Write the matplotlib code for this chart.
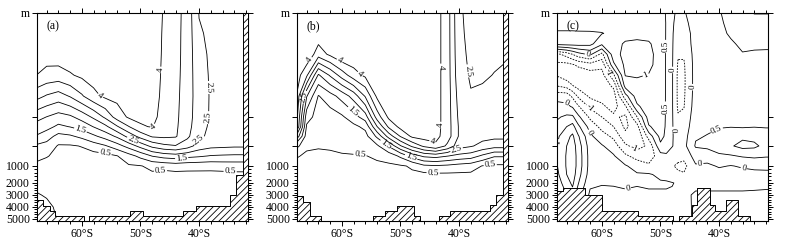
import numpy as np
import matplotlib

matplotlib.use("Agg")
import matplotlib.pyplot as plt
from matplotlib.ticker import FixedLocator, MultipleLocator

plt.rcParams.update(
    {
        "font.family": "serif",
        "font.serif": ["Liberation Serif", "DejaVu Serif"],
        "hatch.linewidth": 0.6,
    }
)

# vertical axis is stretched in the upper ocean (depth in m -> axis units)
DEPTH_KNOTS = [0, 200, 500, 1000, 2000, 3000, 4000, 5000, 5200]
AXIS_KNOTS = [0, 104.5, 133.5, 153.5, 170.5, 182.5, 194.5, 206.5, 208.9]
BOTTOM = 5170

# ---- grids ----
LAT_AB = [-68, -66, -64, -62, -60, -58, -56, -54, -52, -50,
          -48, -46, -44, -42, -40, -38, -36, -34, -32, -30]
DEPTH_AB = [0, 40, 80, 120, 160, 200, 300, 400, 500, 750, 1000, 1500, 2000, 3000, 4000, 5170]

# panel (a): one column per latitude, top -> bottom
FIELD_A = [
    [4.6, 4.5, 4.3, 4.02, 3.21, 2.2, 1.83, 1.48, 0.94, 0.65, 0.41, 0.27, 0.12, -0.05, -0.15, -0.2],
    [4.6, 4.45, 4.2, 3.85, 2.95, 1.99, 1.67, 1.22, 0.82, 0.52, 0.39, 0.29, 0.18, 0.04, -0.1, -0.2],
    [4.6, 4.45, 4.25, 3.8, 2.78, 1.8, 1.4, 0.84, 0.45, 0.42, 0.35, 0.3, 0.24, 0.16, 0.08, 0.02],
    [4.6, 4.45, 4.3, 3.95, 3.04, 1.91, 1.52, 0.92, 0.45, 0.4, 0.36, 0.32, 0.28, 0.22, 0.15, 0.1],
    [4.6, 4.45, 4.3, 4.1, 3.44, 2.2, 1.7, 1.13, 0.52, 0.35, 0.33, 0.32, 0.3, 0.27, 0.2, 0.15],
    [4.6, 4.45, 4.35, 4.2, 3.87, 2.59, 2.02, 1.4, 0.76, 0.3, 0.3, 0.3, 0.3, 0.28, 0.22, 0.18],
    [4.6, 4.45, 4.35, 4.25, 4.1, 3.1, 2.37, 1.7, 0.95, 0.35, 0.33, 0.32, 0.31, 0.3, 0.25, 0.2],
    [4.6, 4.45, 4.35, 4.25, 4.15, 3.72, 2.94, 2.09, 1.28, 0.48, 0.4, 0.38, 0.36, 0.32, 0.27, 0.22],
    [4.6, 4.45, 4.35, 4.28, 4.2, 4.07, 3.48, 2.67, 1.7, 0.8, 0.45, 0.41, 0.37, 0.33, 0.28, 0.23],
    [4.6, 4.45, 4.35, 4.3, 4.2, 4.1, 3.95, 3.18, 2.17, 1.14, 0.48, 0.42, 0.38, 0.34, 0.29, 0.24],
    [4.6, 4.45, 4.35, 4.3, 4.25, 4.15, 4.03, 3.56, 2.64, 1.52, 0.6, 0.44, 0.39, 0.35, 0.3, 0.25],
    [3.92, 3.9, 3.9, 3.88, 3.85, 3.8, 3.7, 3.6, 2.88, 1.71, 0.65, 0.36, 0.34, 0.32, 0.3, 0.26],
    [3.68, 3.66, 3.65, 3.64, 3.62, 3.6, 3.58, 3.55, 2.97, 1.79, 0.72, 0.38, 0.36, 0.33, 0.3, 0.26],
    [3.3, 3.3, 3.3, 3.28, 3.26, 3.22, 3.18, 3.1, 2.72, 1.65, 0.68, 0.38, 0.36, 0.33, 0.3, 0.26],
    [2.48, 2.55, 2.62, 2.68, 2.72, 2.72, 2.68, 2.6, 2.28, 1.57, 0.67, 0.38, 0.36, 0.33, 0.3, 0.26],
    [2.4, 2.42, 2.44, 2.45, 2.46, 2.45, 2.42, 2.38, 2.13, 1.47, 0.66, 0.38, 0.36, 0.33, 0.3, 0.26],
    [2.35, 2.36, 2.38, 2.39, 2.4, 2.38, 2.35, 2.3, 2.1, 1.44, 0.7, 0.38, 0.36, 0.33, 0.3, 0.26],
    [2.3, 2.32, 2.34, 2.35, 2.36, 2.34, 2.3, 2.25, 2.07, 1.42, 0.72, 0.4, 0.36, 0.33, 0.3, 0.26],
    [2.3, 2.32, 2.34, 2.35, 2.36, 2.34, 2.3, 2.25, 2.07, 1.42, 0.72, 0.4, 0.36, 0.33, 0.3, 0.26],
    [2.3, 2.32, 2.34, 2.35, 2.36, 2.34, 2.3, 2.25, 2.07, 1.42, 0.72, 0.4, 0.36, 0.33, 0.3, 0.26],
]

# panel (b)
FIELD_B = [
    [4.5, 4.45, 4.4, 4.35, 4.25, 4.12, 4.03, 2.65, 1.27, 0.54, 0.42, 0.38, 0.35, 0.3, 0.27, 0.25],
    [4.5, 4.45, 4.4, 3.6, 2.04, 1.2, 0.93, 0.74, 0.55, 0.45, 0.4, 0.36, 0.33, 0.3, 0.27, 0.25],
    [4.5, 4.3, 3.74, 1.93, 0.97, 0.8, 0.72, 0.62, 0.52, 0.45, 0.41, 0.37, 0.34, 0.3, 0.27, 0.25],
    [4.5, 4.35, 4.1, 2.56, 1.3, 0.75, 0.68, 0.6, 0.53, 0.46, 0.42, 0.38, 0.35, 0.31, 0.28, 0.25],
    [4.6, 4.55, 4.45, 3.22, 1.69, 0.92, 0.78, 0.68, 0.58, 0.47, 0.42, 0.38, 0.35, 0.31, 0.28, 0.25],
    [4.6, 4.5, 4.4, 3.78, 2.2, 1.28, 0.88, 0.72, 0.6, 0.48, 0.42, 0.38, 0.35, 0.31, 0.28, 0.25],
    [4.6, 4.5, 4.4, 4.1, 3.05, 1.75, 1.12, 0.82, 0.65, 0.49, 0.43, 0.39, 0.36, 0.32, 0.29, 0.26],
    [4.6, 4.55, 4.5, 4.35, 4.1, 3.22, 2.48, 1.6, 0.9, 0.55, 0.44, 0.4, 0.37, 0.33, 0.3, 0.27],
    [4.6, 4.55, 4.5, 4.4, 4.3, 4.1, 3.6, 2.7, 1.55, 0.7, 0.42, 0.4, 0.37, 0.33, 0.3, 0.27],
    [4.6, 4.55, 4.5, 4.4, 4.3, 4.2, 4.15, 3.53, 2.45, 1.1, 0.45, 0.41, 0.38, 0.34, 0.31, 0.28],
    [4.6, 4.55, 4.5, 4.4, 4.35, 4.3, 4.2, 4.1, 3.1, 1.72, 0.55, 0.44, 0.4, 0.35, 0.32, 0.28],
    [4.5, 4.5, 4.45, 4.4, 4.35, 4.3, 4.25, 4.2, 3.6, 2.1, 0.9, 0.38, 0.36, 0.34, 0.31, 0.28],
    [4.2, 4.2, 4.2, 4.2, 4.2, 4.2, 4.2, 4.15, 3.9, 2.2, 0.95, 0.42, 0.38, 0.35, 0.32, 0.28],
    [3.75, 3.75, 3.75, 3.75, 3.75, 3.75, 3.75, 3.75, 3.4, 2.02, 0.9, 0.42, 0.38, 0.35, 0.32, 0.28],
    [2.55, 2.58, 2.62, 2.68, 2.8, 2.9, 2.95, 2.95, 2.7, 1.85, 0.8, 0.42, 0.38, 0.35, 0.32, 0.28],
    [2.4, 2.4, 2.42, 2.45, 2.53, 2.7, 2.75, 2.72, 2.55, 1.75, 0.72, 0.42, 0.38, 0.35, 0.32, 0.28],
    [2.35, 2.36, 2.4, 2.46, 2.56, 2.7, 2.72, 2.65, 2.35, 1.4, 0.48, 0.4, 0.37, 0.33, 0.3, 0.28],
    [2.38, 2.4, 2.44, 2.51, 2.6, 2.7, 2.7, 2.62, 2.2, 1.05, 0.42, 0.38, 0.36, 0.33, 0.3, 0.28],
    [2.4, 2.42, 2.47, 2.55, 2.62, 2.7, 2.7, 2.62, 2.2, 1.05, 0.42, 0.38, 0.36, 0.33, 0.3, 0.28],
    [2.4, 2.42, 2.47, 2.55, 2.62, 2.7, 2.7, 2.62, 2.2, 1.05, 0.42, 0.38, 0.36, 0.33, 0.3, 0.28],
]

# panel (c): difference field, finer grid
LAT_C = [-68, -66, -65, -64, -62, -60, -58, -56, -54, -52, -50, -49,
         -48, -47, -46, -44, -42, -40, -38, -36, -34, -32, -30]
DEPTH_C = [0, 20, 40, 60, 80, 100, 120, 140, 160, 180, 200, 300, 400, 500, 750,
           1000, 1500, 2000, 3000, 5170]
FIELD_C = [
    [0.75, 0.85, 1.05, 1.15, -1.2, -1.6, -1.5, -1.0, -0.2, 0.2, 0.4, 0.6, 0.8, 0.9, 0.9, 0.85, 0.75, 0.6, 0.45, 0.3],
    [0.75, 0.85, 1.05, 1.2, -0.8, -1.65, -1.8, -1.2, -0.2, 0.1, 0.6, 1.0, 1.35, 1.5, 1.55, 1.55, 1.5, 1.3, 1.0, 0.8],
    [0.75, 0.85, 1.05, 1.2, -0.5, -1.55, -1.85, -1.48, -0.6, -0.05, 0.6, 1.2, 1.6, 1.75, 1.8, 1.8, 1.75, 1.6, 1.3, 1.0],
    [0.72, 0.82, 1.05, 1.2, -0.2, -1.4, -1.85, -1.7, -1.1, -0.45, 0.1, 0.6, 1.05, 1.25, 1.3, 1.3, 1.2, 1.02, 0.7, 0.5],
    [0.7, 0.8, 1.05, 1.15, 0.1, -1.2, -1.75, -1.85, -1.6, -1.1, -0.6, -0.2, 0.1, 0.25, 0.3, 0.3, 0.25, 0.1, -0.1, -0.2],
    [0.65, 0.8, 1.02, 0.6, -0.65, -1.35, -1.7, -1.8, -1.7, -1.4, -1.0, -0.65, -0.3, 0.05, 0.15, 0.15, 0.1, 0.02, -0.08, -0.15],
    [0.6, 0.75, 0.9, 0.85, 0.8, 0.4, -0.6, -1.4, -1.75, -1.7, -1.4, -1.0, -0.6, -0.25, 0.05, 0.12, 0.1, 0.03, -0.08, -0.15],
    [0.55, 0.7, 0.85, 1.05, 1.15, 1.12, 1.02, 0.7, -0.2, -1.1, -1.6, -1.6, -1.35, -0.9, -0.4, 0.05, 0.1, 0.05, -0.05, -0.1],
    [0.55, 0.65, 0.85, 1.1, 1.2, 1.18, 1.05, 0.85, 0.75, 0.4, -0.52, -1.2, -1.45, -1.2, -0.7, -0.2, 0.05, 0.02, -0.05, -0.1],
    [0.55, 0.62, 0.85, 1.05, 1.12, 1.1, 0.98, 0.85, 0.8, 0.78, 0.72, 0.45, -0.3, -0.9, -0.8, -0.4, 0.05, 0.05, -0.05, -0.1],
    [0.6, 0.68, 0.75, 0.8, 0.82, 0.82, 0.8, 0.8, 0.78, 0.76, 0.75, 0.72, 0.65, 0.4, -0.2, -0.48, -0.1, 0.05, -0.05, -0.1],
    [0.48, 0.48, 0.47, 0.46, 0.45, 0.45, 0.45, 0.45, 0.45, 0.45, 0.45, 0.44, 0.4, 0.3, -0.1, -0.4, -0.15, 0.05, -0.05, -0.1],
    [0.1, 0.08, 0.06, 0.05, 0.05, 0.05, 0.05, 0.05, 0.05, 0.05, 0.05, 0.05, 0.05, 0.02, -0.2, -0.45, -0.3, 0.02, -0.05, -0.1],
    [-0.1, -0.2, -0.3, -0.35, -0.45, -0.55, -0.6, -0.6, -0.6, -0.58, -0.45, -0.35, -0.25, -0.15, -0.3, -0.6, -0.4, -0.05, -0.08, -0.1],
    [-0.05, -0.15, -0.25, -0.3, -0.45, -0.55, -0.58, -0.58, -0.56, -0.52, -0.4, -0.3, -0.2, -0.15, -0.35, -0.65, -0.45, -0.1, -0.08, -0.1],
    [0.3, 0.25, 0.2, 0.2, 0.2, 0.2, 0.2, 0.2, 0.22, 0.25, 0.3, 0.35, 0.45, 0.55, 0.2, -0.05, -0.2, -0.1, 0.05, 0.05],
    [0.35, 0.3, 0.25, 0.22, 0.2, 0.2, 0.2, 0.22, 0.25, 0.3, 0.35, 0.42, 0.52, 0.6, 0.25, -0.1, -0.25, -0.1, 0.05, 0.05],
    [0.48, 0.45, 0.4, 0.35, 0.3, 0.25, 0.25, 0.25, 0.28, 0.32, 0.38, 0.46, 0.7, 0.8, 0.4, 0.05, -0.2, -0.1, 0.05, 0.05],
    [0.6, 0.58, 0.55, 0.45, 0.38, 0.32, 0.3, 0.3, 0.32, 0.35, 0.4, 0.48, 0.8, 0.95, 0.45, -0.02, -0.15, -0.1, 0.05, 0.05],
    [0.65, 0.65, 0.62, 0.57, 0.48, 0.4, 0.35, 0.33, 0.33, 0.35, 0.4, 0.45, 0.9, 1.15, 0.55, 0.05, -0.15, -0.1, 0.05, 0.05],
    [1.05, 0.7, 0.62, 0.56, 0.46, 0.42, 0.38, 0.35, 0.35, 0.37, 0.42, 0.48, 0.85, 1.1, 0.6, 0.1, -0.12, -0.08, 0.05, 0.05],
    [1.05, 0.7, 0.6, 0.55, 0.46, 0.42, 0.38, 0.36, 0.36, 0.38, 0.42, 0.47, 0.7, 0.85, 0.55, 0.1, -0.1, -0.06, 0.05, 0.05],
    [1.05, 0.7, 0.6, 0.55, 0.46, 0.42, 0.38, 0.36, 0.36, 0.38, 0.42, 0.47, 0.7, 0.85, 0.55, 0.1, -0.1, -0.06, 0.05, 0.05],
]

# contour levels: unlabelled ones and labelled ones
PLAIN_AB = [0, 1.0, 2.0, 3.0, 3.5]
LABELLED_AB = [0.5, 1.5, 2.5, 4.0]
PLAIN_C = [-2.0, 1.5]
LABELLED_C = [-1.5, -1.0, -0.5, 0, 0.5, 1.0]

# where the contour labels sit (lat, depth)
LABEL_AT_A = [(-57.75, 175), (-47.8, 303), (-46.1, 110), (-39.45, 144), (-38.1, 210),
              (-51.4, 459), (-39.8, 448), (-60.3, 350), (-42.9, 900), (-56.0, 650),
              (-46.6, 1176), (-34.7, 1353)]
LABEL_AT_B = [(-60.6, 97), (-56.9, 118), (-65.4, 91), (-67.1, 161), (-58.9, 199),
              (-56.9, 725), (-52.6, 490), (-48.4, 850), (-44.4, 1276), (-43.0, 104),
              (-44.1, 283), (-44.7, 497), (-40.4, 600), (-39.5, 113), (-34.7, 950)]
LABEL_AT_C = [(-49.4, 65), (-47.8, 110), (-48.9, 183), (-47.5, 334), (-44.4, 143),
              (-52.9, 111), (-65.7, 167), (-62.3, 77), (-62.0, 183), (-61.7, 352),
              (-54.3, 517), (-66.8, 472), (-39.8, 403), (-43.2, 980), (-35.9, 1429),
              (-55.8, 1924), (-58.7, 113)]

# bottom topography: segment edges (lat) and depth of sea floor per segment
TOPO_A_EDGES = [-67.7, -66.6, -65.5, -64.6, -59.6, -58.7, -51.8, -49.5, -42.7, -40.5, -34.7, -33.7, -32.55, -31.4]
TOPO_A_TOP = [3400, 3900, 4300, 4750, BOTTOM, 4750, 4300, 4750, 4300, 3900, 3000, 1530, 0]
TOPO_B_EDGES = [-67.7, -66.7, -65.5, -63.6, -54.6, -52.6, -50.6, -47.7, -46.7, -43.5, -41.5, -34.7, -33.7, -32.55, -31.4]
TOPO_B_TOP = [3100, 3550, 4750, BOTTOM, 4750, 4300, 3900, 4750, BOTTOM, 4750, 4300, 3850, 3000, 0]
TOPO_C_EDGES = [-67.7, -66.6, -62.9, -60.0, -53.8, -47.8, -46.8, -44.7, -43.8, -41.5, -40.7, -38.8, -36.7, -34.7, -31.4]
TOPO_C_TOP = [2700, 2450, 3000, 4300, 4750, BOTTOM, 4750, 3850, 2450, 3850, 4300, 3400, 4750, BOTTOM]

LAT_TICKS = [-60, -50, -40]
LAT_TICKLABELS = ["60°S", "50°S", "40°S"]
DEPTH_TICKS = [0, 200, 500, 1000, 2000, 3000, 4000, 5000]
DEPTH_TICKLABELS = ["m", "", "", "1000", "2000", "3000", "4000", "5000"]


def fwd(d):
    return np.interp(d, DEPTH_KNOTS, AXIS_KNOTS)


def inv(p):
    return np.interp(p, AXIS_KNOTS, DEPTH_KNOTS)


def setup_axes(ax, tag):
    ax.set_yscale("function", functions=(fwd, inv))
    ax.set_xlim(-67.7, -31.6)
    ax.set_ylim(BOTTOM, 0)
    ax.set_xticks(LAT_TICKS, LAT_TICKLABELS)
    ax.xaxis.set_minor_locator(MultipleLocator(2))
    ax.set_yticks(DEPTH_TICKS, DEPTH_TICKLABELS)
    ax.yaxis.set_minor_locator(FixedLocator(list(range(1200, 5000, 200))))
    ax.tick_params(which="both", direction="out", top=True, right=True, labelsize=8.5, pad=1.5, width=0.7)
    ax.tick_params(which="major", length=3.5)
    ax.tick_params(which="minor", length=2)
    for sp in ax.spines.values():
        sp.set_linewidth(0.8)
    ax.text(0.045, 0.965, tag, transform=ax.transAxes, ha="left", va="top", fontsize=8.5)


def draw_topo(ax, edges, tops):
    y = list(tops) + [tops[-1]]
    ax.fill_between(edges, y, BOTTOM, step="post", facecolor="white", edgecolor="k",
                    hatch="/////", linewidth=0.7, zorder=3)


fig = plt.figure(figsize=(7.85, 2.45), dpi=100)
lefts = [36.7 / 785, 296.7 / 785, 556.7 / 785]
w = 211.6 / 785
b = (245 - 221) / 245
h = 208.5 / 245

panels = [
    ("(a)", LAT_AB, DEPTH_AB, FIELD_A, PLAIN_AB, LABELLED_AB, LABEL_AT_A, TOPO_A_EDGES, TOPO_A_TOP),
    ("(b)", LAT_AB, DEPTH_AB, FIELD_B, PLAIN_AB, LABELLED_AB, LABEL_AT_B, TOPO_B_EDGES, TOPO_B_TOP),
    ("(c)", LAT_C, DEPTH_C, FIELD_C, PLAIN_C, LABELLED_C, LABEL_AT_C, TOPO_C_EDGES, TOPO_C_TOP),
]

for left, (tag, lat, dep, field, plain, labelled, lab_at, t_edges, t_top) in zip(lefts, panels):
    ax = fig.add_axes([left, b, w, h])
    setup_axes(ax, tag)
    z = np.array(field).T
    style = dict(colors="k", linewidths=0.6, negative_linestyles=(0, (2.0, 1.5)))
    ax.contour(lat, dep, z, levels=plain, **style)
    cs = ax.contour(lat, dep, z, levels=labelled, **style)
    ax.clabel(cs, fmt="%g", fontsize=6.5, inline=True, inline_spacing=1, manual=lab_at)
    draw_topo(ax, t_edges, t_top)
    ax.set_xlim(-67.7, -31.6)
    ax.set_ylim(BOTTOM, 0)

fig.savefig("out.png", dpi=100, facecolor="white")
